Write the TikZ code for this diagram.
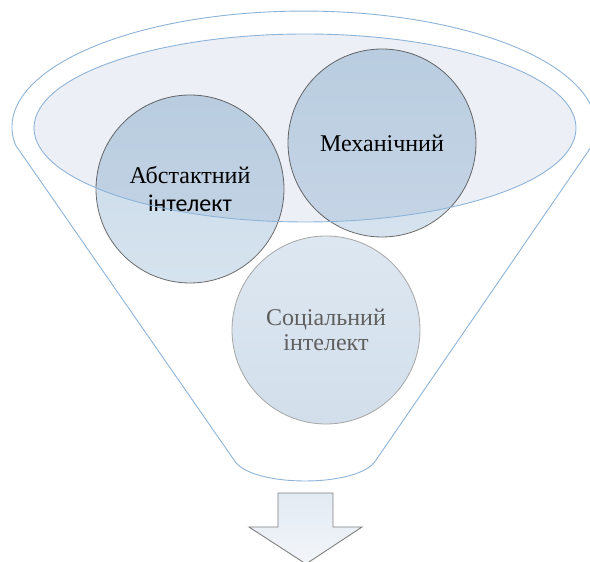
\documentclass[tikz,border=0pt]{standalone}
\usepackage{fontspec}
\setmainfont{Liberation Serif}
\newfontfamily\labelsans{Carlito}
\definecolor{funnelblue}{HTML}{8DB3D9}
\definecolor{rimfill}{HTML}{ECF0F6}
\definecolor{bubbletop}{HTML}{C9DAE9}
\definecolor{bubblebot}{HTML}{D6E3EF}
\definecolor{softtop}{HTML}{DDE7F1}
\definecolor{softbot}{HTML}{D2DFEB}
\definecolor{softtext}{HTML}{5F5F5F}
\definecolor{arrowtop}{HTML}{E2EAF3}
\definecolor{arrowbot}{HTML}{F3F6FA}
\tikzset{
  bubble/.style={circle, minimum size=188pt, inner sep=0pt, align=center,
    top color=bubbletop, bottom color=bubblebot, draw=black!58, line width=0.8pt,
    font=\fontsize{24}{28}\selectfont},
  softbubble/.style={bubble, top color=softtop, bottom color=softbot,
    draw=black!35, text=softtext, font=\fontsize{24}{25}\selectfont},
  funnelline/.style={draw=funnelblue, line width=0.9pt},
}
\begin{document}
\begin{tikzpicture}[x=1pt,y=1pt]
  \useasboundingbox (0,0) rectangle (590,562);
  % funnel outline
  \coordinate (lowleft) at (234,102);
  \coordinate (lowright) at (376,102);
  \draw[funnelline] (lowleft) -- (15.5,417)
    arc[start angle=188.9, end angle=-8.9, x radius=292, y radius=116]
    -- (lowright) .. controls (360,74) and (250,74) .. (lowleft);
  % three circles
  \node[softbubble] (social) at (326,232) {Соціальний\\інтелект};
  \node[bubble] (abstr) at (190,373) {Абстактний\\{\labelsans інтелект}};
  \node[bubble] (mech) at (382,419) {Механічний};
  % rim of the funnel over the circles
  \begin{scope}[blend mode=multiply]
    \fill[rimfill] (305,434) ellipse[x radius=271, y radius=94];
  \end{scope}
  \draw[funnelline] (305,434) ellipse[x radius=271, y radius=94];
  % arrow below
  \draw[draw=black!50, line width=0.9pt, top color=arrowtop, bottom color=arrowbot]
    (278,69) -- (333,69) -- (333,35) -- (362,35) -- (306,-2) -- (249,35) -- (278,35) -- cycle;
\end{tikzpicture}
\end{document}
